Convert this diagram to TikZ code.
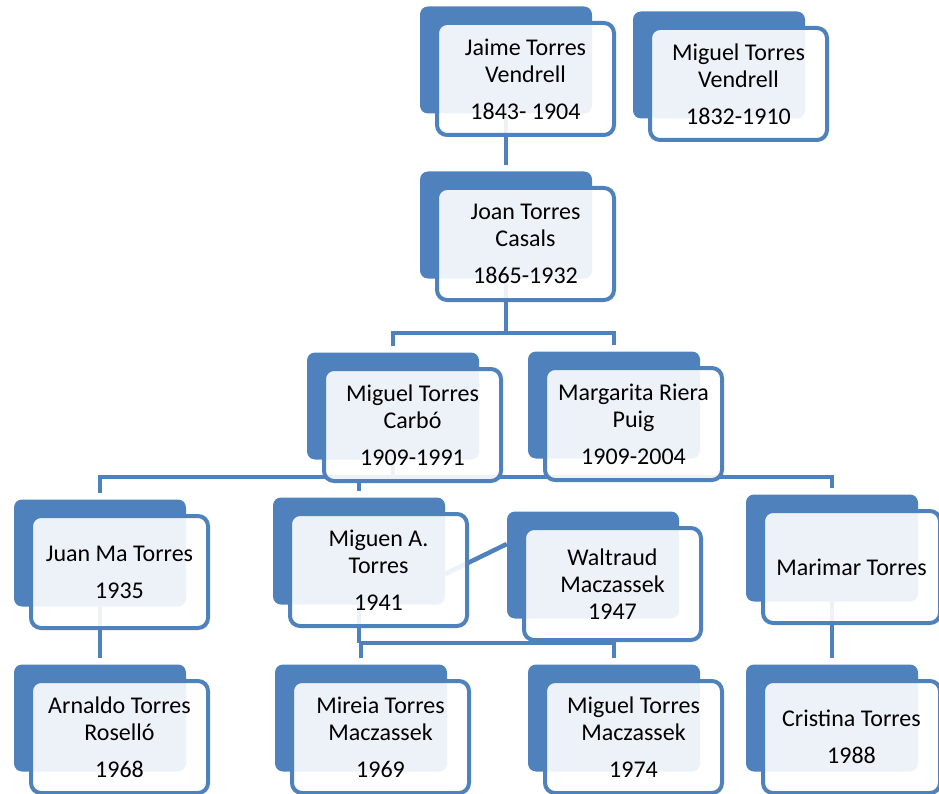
\documentclass[tikz,border=0pt]{standalone}
\usepackage{fontspec}
\setmainfont{Carlito}
\usetikzlibrary{positioning,calc}
\definecolor{accent}{HTML}{4F81BD}
\definecolor{ink}{HTML}{000000}

\begin{document}
\begin{tikzpicture}[
  x=1pt, y=-1pt,
  font=\fontsize{24}{27}\selectfont,
  plate/.style={fill=accent, rounded corners=8pt, minimum width=172pt, minimum height=107pt, inner sep=0pt},
  card/.style={draw=accent, line width=4pt, fill=white, fill opacity=0.9, text opacity=1, text=ink, rounded corners=10pt,
    minimum width=177pt, minimum height=112pt, inner sep=0pt, align=center, xshift=19.5pt, yshift=-19pt},
  link/.style={draw=accent, line width=4.5pt},
]
\useasboundingbox (0,0) rectangle (939,794);
\clip (0,0) rectangle (939,794);

% blue plates behind the cards
\node[plate] (jaimeB) at (506,60) {};
\node[plate] (vendrellB) at (719,65) {};
\node[plate] (joanB) at (506,225) {};
\node[plate] (carboB) at (393,406) {};
\node[plate] (rieraB) at (614,405) {};
\node[plate] (juanB) at (100,553) {};
\node[plate] (miguenB) at (359,551) {};
\node[plate] (waltraudB) at (593,565) {};
\node[plate] (marimarB) at (832,548) {};
\node[plate] (arnaldoB) at (100,718) {};
\node[plate] (mireiaB) at (361,718) {};
\node[plate] (miguelB) at (614,718) {};
\node[plate] (cristinaB) at (832,718) {};

% --- family lines ---
\draw[link] (jaimeB.south) -- ([yshift=6pt]joanB.north);
\coordinate (busA) at (506,333);
\draw[link] (joanB.south) -- (busA);
\draw[link] ([yshift=6pt]carboB.north) |- (busA) -| ([yshift=6pt]rieraB.north);

\coordinate (busB) at (393,477);
\draw[link] (carboB.south) -- (busB);
\draw[link] ([yshift=6pt]juanB.north) |- (busB) -| ([yshift=6pt]marimarB.north);
\draw[link] (busB -| miguenB) -- ([yshift=6pt]miguenB.north);
\draw[link] ([yshift=-23pt]miguenB.east) -- ([yshift=21pt]waltraudB.west);

\coordinate (busC) at (359,643);
\draw[link] (miguenB.south) -- (busC);
\draw[link] ([yshift=6pt]mireiaB.north) |- (busC) -| ([yshift=6pt]miguelB.north);
\draw[link] (juanB.south) -- ([yshift=6pt]arnaldoB.north);
\draw[link] (marimarB.south) -- ([yshift=6pt]cristinaB.north);

% --- cards ---
\node[card] (jaime) at (jaimeB) {Jaime Torres\\Vendrell\\[10pt]1843- 1904};
\node[card] (vendrell) at (vendrellB) {Miguel Torres\\Vendrell\\[10pt]1832-1910};
\node[card] (joan) at (joanB) {Joan Torres\\Casals\\[10pt]1865-1932};
\node[card] (carbo) at (carboB) {Miguel Torres\\Carbó\\[10pt]1909-1991};
\node[card] (riera) at (rieraB) {Margarita Riera\\Puig\\[10pt]1909-2004};
\node[card] (juan) at (juanB) {Juan Ma Torres\\[10pt]1935};
\node[card] (miguen) at (miguenB) {Miguen A.\\Torres\\[10pt]1941};
\node[card] (waltraud) at (waltraudB) {Waltraud\\Maczassek\\1947};
\node[card] (marimar) at (marimarB) {Marimar Torres};
\node[card] (arnaldo) at (arnaldoB) {Arnaldo Torres\\Roselló\\[10pt]1968};
\node[card] (mireia) at (mireiaB) {Mireia Torres\\Maczassek\\[10pt]1969};
\node[card] (miguel) at (miguelB) {Miguel Torres\\Maczassek\\[10pt]1974};
\node[card] (cristina) at (cristinaB) {Cristina Torres\\[10pt]1988};
\end{tikzpicture}
\end{document}
